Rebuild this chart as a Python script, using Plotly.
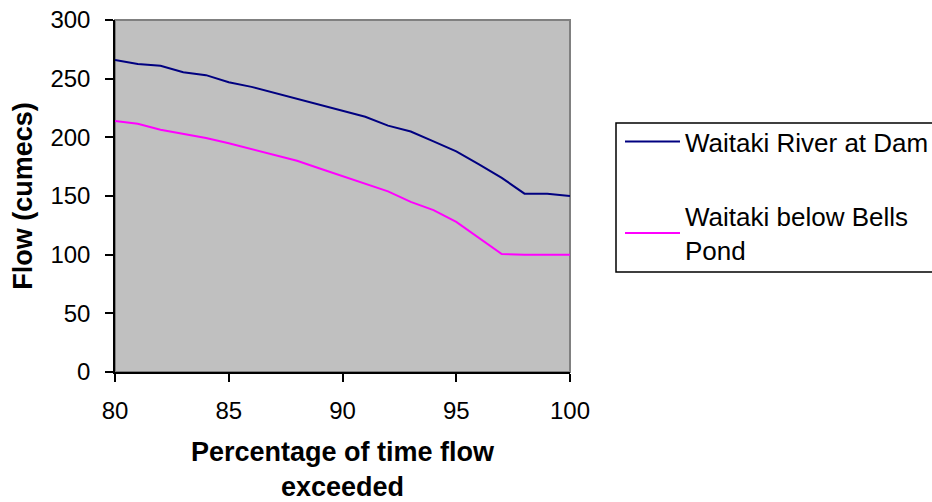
import plotly.graph_objects as go

pct = list(range(80, 101))
dam = [266, 262.5, 261, 255.5, 253, 247, 243, 238, 233, 228, 223,
       217.5, 210, 205, 196.5, 188, 177, 165.5, 152, 152, 150]
bells = [214, 211.5, 206.5, 203, 199.5, 195, 190, 185.5, 180, 173.5, 167,
         160, 154, 145, 138, 128, 114.5, 100.5, 100, 100, 100]

FONT = "Arial, Liberation Sans, sans-serif"
L, R, T, B = 115, 362, 20, 130
W, H = 932, 502
pw, ph = W - L - R, H - T - B

def px_x(x):
    return (x - L) / pw

def px_y(y):
    return (H - B - y) / ph

fig = go.Figure()
fig.add_trace(go.Scatter(x=pct, y=dam, mode="lines", name="Waitaki River at Dam",
                         line=dict(color="#000080", width=2), legendgroup="a"))
fig.add_trace(go.Scatter(x=pct, y=bells, mode="lines", name="Waitaki below Bells<br>Pond",
                         line=dict(color="#FF00FF", width=2), legendgroup="b"))

# plot-area border (gray) and legend box
fig.add_shape(type="rect", xref="paper", yref="paper", x0=0, x1=1, y0=0, y1=1,
              line=dict(color="#808080", width=2), layer="below")
fig.add_shape(type="rect", xref="paper", yref="paper",
              x0=px_x(616), x1=px_x(945), y0=px_y(272), y1=px_y(123),
              line=dict(color="black", width=1.5))

fig.update_layout(
    width=W, height=H,
    margin=dict(l=L, r=R, t=T, b=B, autoexpand=False),
    paper_bgcolor="white",
    plot_bgcolor="#C0C0C0",
    font=dict(family=FONT, size=24, color="black"),
    showlegend=True,
    legend=dict(x=px_x(620), y=px_y(118), xanchor="left", yanchor="top",
                bgcolor="rgba(0,0,0,0)", borderwidth=0,
                font=dict(family=FONT, size=26, color="black"),
                itemwidth=55, tracegroupgap=38, traceorder="grouped"),
    xaxis=dict(range=[80, 100], tickmode="array", tickvals=[80, 85, 90, 95, 100],
               showgrid=False, zeroline=False, showline=True, linecolor="black",
               linewidth=1.5, ticks="outside", ticklen=8, tickwidth=1.5,
               tickcolor="black", tickfont=dict(size=24), ticklabelstandoff=8,
               automargin=False,
               title=dict(text="<b>Percentage of time flow<br>exceeded</b>",
                          font=dict(size=27), standoff=31)),
    yaxis=dict(range=[0, 300], tickmode="array", tickvals=[0, 50, 100, 150, 200, 250, 300],
               showgrid=False, zeroline=False, showline=True, linecolor="black",
               linewidth=1.5, ticks="outside", ticklen=8, tickwidth=1.5,
               tickcolor="black", tickfont=dict(size=24), ticklabelstandoff=10,
               automargin=False,
               title=dict(text="<b>Flow (cumecs)</b>", font=dict(size=27), standoff=10)),
)

fig.write_html("out.html")
